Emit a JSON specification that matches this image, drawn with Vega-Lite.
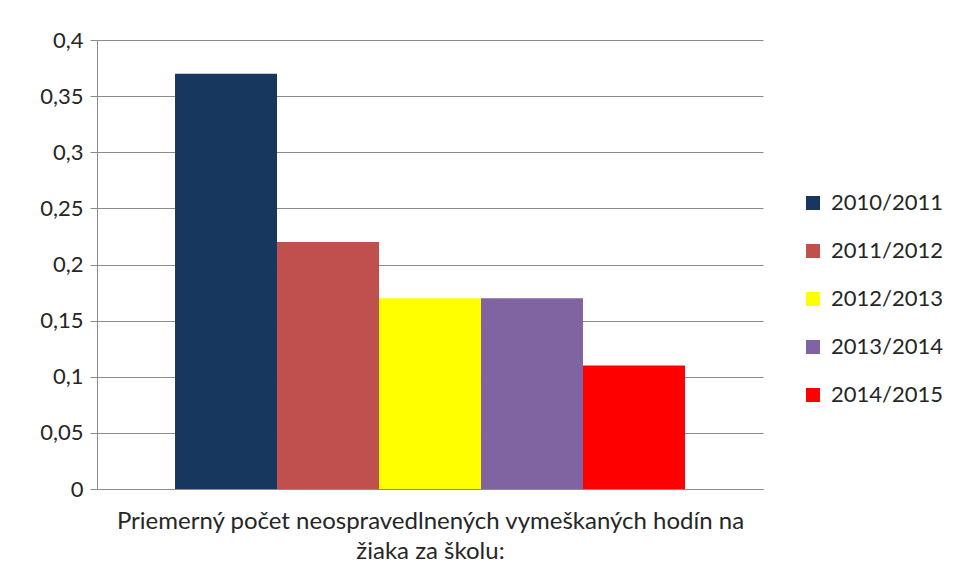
{
  "$schema": "https://vega.github.io/schema/vega-lite/v6.json",
  "width": 666,
  "height": 449,
  "autosize": {"type": "none"},
  "padding": {"left": 97, "top": 40, "right": 195, "bottom": 91},
  "background": "white",
  "config": {
    "font": "Lato",
    "view": {"stroke": null},
    "locale": {"number": {"decimal": ",", "thousands": " ", "grouping": [3], "currency": ["", " €"]}}
  },
  "data": {
    "values": [
      {"kategoria": "Priemerný počet", "rok": "2010/2011", "hodnota": 0.37},
      {"kategoria": "Priemerný počet", "rok": "2011/2012", "hodnota": 0.22},
      {"kategoria": "Priemerný počet", "rok": "2012/2013", "hodnota": 0.17},
      {"kategoria": "Priemerný počet", "rok": "2013/2014", "hodnota": 0.17},
      {"kategoria": "Priemerný počet", "rok": "2014/2015", "hodnota": 0.11}
    ]
  },
  "mark": {"type": "bar"},
  "encoding": {
    "x": {
      "field": "kategoria",
      "type": "nominal",
      "scale": {"paddingInner": 0, "paddingOuter": 0.153},
      "axis": {
        "labels": false,
        "ticks": false,
        "domainColor": "#8c8c8c",
        "title": ["Priemerný počet neospravedlnených vymeškaných hodín na", "žiaka za školu:"],
        "titleFont": "Lato",
        "titleFontSize": 24,
        "titleFontWeight": "normal",
        "titleColor": "#262626",
        "titlePadding": 20,
        "titleLineHeight": 30
      }
    },
    "xOffset": {
      "field": "rok",
      "type": "nominal",
      "scale": {"paddingInner": 0, "paddingOuter": 0}
    },
    "y": {
      "field": "hodnota",
      "type": "quantitative",
      "scale": {"domain": [0, 0.4]},
      "axis": {
        "values": [0, 0.05, 0.1, 0.15, 0.2, 0.25, 0.3, 0.35, 0.4],
        "format": ".2~f",
        "title": null,
        "labelFontSize": 22,
        "labelColor": "#262626",
        "labelPadding": 7,
        "tickSize": 7,
        "tickColor": "#8c8c8c",
        "domainColor": "#8c8c8c",
        "gridColor": "#8c8c8c",
        "gridWidth": 1
      }
    },
    "color": {
      "field": "rok",
      "type": "nominal",
      "scale": {
        "domain": ["2010/2011", "2011/2012", "2012/2013", "2013/2014", "2014/2015"],
        "range": ["#17375E", "#C0504D", "#FFFF00", "#8064A2", "#FF0000"]
      },
      "legend": {
        "title": null,
        "orient": "none",
        "legendX": 705,
        "legendY": 152,
        "symbolType": "square",
        "symbolSize": 196,
        "symbolStrokeWidth": 0,
        "labelFontSize": 22,
        "labelColor": "#262626",
        "labelOffset": 7,
        "rowPadding": 26
      }
    }
  }
}
